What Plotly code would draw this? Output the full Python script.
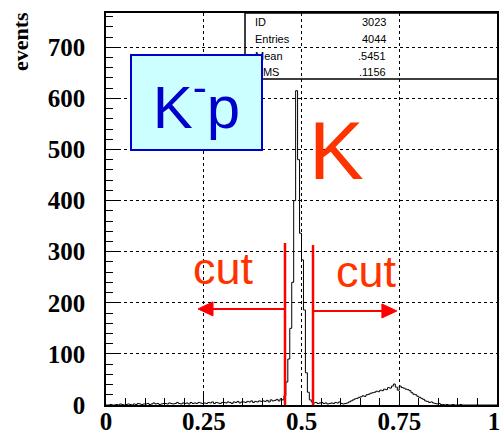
import plotly.graph_objects as go

# ---------------- data ----------------
bin_width = 0.005
n_bins = 200
counts = [
    # 0.00 - 0.10
    0, 0, 1, 0, 0, 1, 0, 2, 1, 0, 1, 2, 1, 0, 2, 1, 3, 2, 1, 2,
    # 0.10 - 0.20
    2, 3, 1, 2, 4, 2, 3, 1, 2, 3, 3, 2, 4, 3, 2, 3, 5, 3, 2, 4,
    # 0.20 - 0.30
    3, 4, 2, 5, 3, 4, 3, 5, 4, 3, 4, 3, 5, 4, 6, 3, 5, 4, 3, 5,
    # 0.30 - 0.40
    5, 4, 6, 5, 3, 6, 5, 7, 4, 6, 6, 5, 7, 6, 8, 5, 7, 6, 8, 7,
    # 0.40 - 0.50
    8, 7, 9, 6, 10, 8, 9, 11, 8, 12, 10, 18, 45, 90, 150, 240, 400, 615, 480, 336,
    # 0.50 - 0.60
    284, 186, 63, 25, 10, 6, 4, 5, 3, 4, 5, 3, 4, 2, 3, 4, 3, 5, 4, 6,
    # 0.60 - 0.70
    3, 2, 3, 4, 6, 8, 10, 12, 13, 15, 16, 18, 17, 20, 21, 23, 24, 25, 27, 26,
    # 0.70 - 0.80
    29, 28, 31, 30, 34, 33, 37, 41, 35, 29, 37, 34, 33, 31, 30, 28, 24, 21, 20, 17,
    # 0.80 - 0.90
    15, 13, 11, 8, 7, 5, 6, 4, 3, 2, 3, 1, 1, 0, 1, 0, 0, 1, 0, 0,
    # 0.90 - 1.00
    0, 1, 0, 0, 0, 0, 0, 0, 0, 0, 0, 0, 0, 0, 0, 0, 0, 0, 0, 0,
]
edges = [round(i * bin_width, 4) for i in range(n_bins + 1)]

x_ticks = [0, 0.25, 0.5, 0.75, 1]
x_tick_labels = ["0", "0.25", "0.5", "0.75", "1"]
y_ticks = [0, 100, 200, 300, 400, 500, 600, 700]

stats_names = ["ID", "Entries", "Mean", "RMS"]
stats_values = ["3023", "4044", ".5451", ".1156"]

cut_low = 0.4578
cut_high = 0.5294
cut_line_top = [317, 313]
arrow_level = [188, 184]
arrow_tip = [0.2353, 0.744]

# ---------------- geometry helpers (layout only) ----------------
W, H = 501, 437
L, R, T, B = 106, 497, 13, 405
Y_MAX = 767
XPX = (R - L)          # pixels per x unit
YPX = (B - T) / Y_MAX  # pixels per y unit


def px(x):
    return (x - L) / (R - L)


def py(y):
    return (B - y) / (B - T)


# the last x label sits at the right page edge: pad it with an invisible
# character on its right so the visible "1" stays inside the page
shown_x_labels = x_tick_labels[:-1] + [x_tick_labels[-1] + "<span style='color:white'>.</span>"]

fig = go.Figure()

fig.add_trace(go.Scatter(
    x=edges,
    y=counts + [counts[-1]],
    mode="lines",
    line=dict(shape="hv", color="black", width=1),
    hoverinfo="skip",
    showlegend=False,
))

serif_bold = dict(family="Liberation Serif, Times New Roman, serif", size=25,
                  color="black", weight="bold")

fig.update_layout(
    width=W, height=H,
    margin=dict(l=L, r=W - R, t=T, b=H - B, pad=0, autoexpand=False),
    paper_bgcolor="white",
    plot_bgcolor="white",
    showlegend=False,
    xaxis=dict(
        range=[0, 1], automargin=False,
        tickmode="array", tickvals=x_ticks, ticktext=shown_x_labels,
        ticks="inside", ticklen=12, tickwidth=1, tickcolor="black",
        minor=dict(dtick=0.05, ticks="inside", ticklen=7, tickcolor="black", showgrid=False),
        showgrid=True, gridcolor="black", griddash="dot", gridwidth=1,
        showline=True, linecolor="black", linewidth=1.5, mirror=True,
        zeroline=False,
        tickfont=serif_bold,
        ticklabelstandoff=-7,
        ticklabeloverflow="allow",
    ),
    yaxis=dict(
        range=[0, Y_MAX], automargin=False,
        tickmode="array", tickvals=y_ticks,
        ticks="inside", ticklen=12, tickwidth=1, tickcolor="black",
        minor=dict(dtick=20, ticks="inside", ticklen=7, tickcolor="black", showgrid=False),
        showgrid=True, gridcolor="black", griddash="dot", gridwidth=1,
        showline=True, linecolor="black", linewidth=1.5, mirror=True,
        zeroline=False,
        tickfont=serif_bold,
        ticklabelstandoff=14,
    ),
    font=dict(family="Liberation Sans"),
)

shapes = []
# stats box
shapes.append(dict(type="rect", xref="paper", yref="paper",
                   x0=px(245), x1=px(498), y0=py(79), y1=1.0,
                   line=dict(color="black", width=1.5), fillcolor="rgba(0,0,0,0)", layer="above"))
# cut lines
for xc, top in zip([cut_low, cut_high], cut_line_top):
    shapes.append(dict(type="line", xref="x", yref="y", x0=xc, x1=xc, y0=0, y1=top,
                       line=dict(color="#ff0000", width=2.5), layer="above"))
# arrows: shaft + filled head
HEAD_LEN = 15 / XPX
HEAD_HALF = 7 / YPX
for xc, lvl, tip in zip([cut_low, cut_high], arrow_level, arrow_tip):
    d = -1 if tip < xc else 1
    base = tip - d * HEAD_LEN
    shapes.append(dict(type="line", xref="x", yref="y", x0=xc, x1=base, y0=lvl, y1=lvl,
                       line=dict(color="#ff0000", width=2), layer="above"))
    shapes.append(dict(type="path", xref="x", yref="y",
                       path=f"M {tip} {lvl} L {base} {lvl + HEAD_HALF} L {base} {lvl - HEAD_HALF} Z",
                       fillcolor="#ff0000", line=dict(color="#ff0000", width=1), layer="above"))
fig.update_layout(shapes=shapes)

ann = []
# y title
ann.append(dict(text="events", xref="paper", yref="paper", x=px(20), y=py(42),
                textangle=-90, showarrow=False, xanchor="center", yanchor="middle",
                font=dict(family="Liberation Serif, Times New Roman, serif", size=22,
                          color="black", weight="bold")))
# stats text
row_y = [22, 39, 56, 72]
for name, val, ry in zip(stats_names, stats_values, row_y):
    ann.append(dict(text=name, xref="paper", yref="paper", x=px(253), y=py(ry),
                    showarrow=False, xanchor="left", yanchor="middle",
                    font=dict(family="Liberation Sans", size=11, color="black")))
    ann.append(dict(text=val, xref="paper", yref="paper", x=px(388), y=py(ry),
                    showarrow=False, xanchor="right", yanchor="middle",
                    font=dict(family="Liberation Sans", size=11, color="black")))
# K-p box (drawn after stats text so it covers it)
ann.append(dict(text="K<sup>-</sup>p", xref="paper", yref="paper",
                x=px(196.5), y=py(102.5), showarrow=False,
                xanchor="center", yanchor="middle",
                width=129, height=93, borderpad=0, borderwidth=2,
                bordercolor="#0000cc", bgcolor="#ccffff",
                font=dict(family="Liberation Sans", size=60, color="#0000cc")))
# big K
ann.append(dict(text="K", xref="paper", yref="paper", x=px(336), y=py(150),
                showarrow=False, xanchor="center", yanchor="middle",
                font=dict(family="Liberation Sans", size=82, color="#ff3300")))
# cut labels
ann.append(dict(text="cut", xref="paper", yref="paper", x=px(223), y=py(268),
                showarrow=False, xanchor="center", yanchor="middle",
                font=dict(family="Liberation Sans", size=45, color="#ff3300")))
ann.append(dict(text="cut", xref="paper", yref="paper", x=px(366.5), y=py(271),
                showarrow=False, xanchor="center", yanchor="middle",
                font=dict(family="Liberation Sans", size=45, color="#ff3300")))
fig.update_layout(annotations=ann)

fig.write_html("out.html")
